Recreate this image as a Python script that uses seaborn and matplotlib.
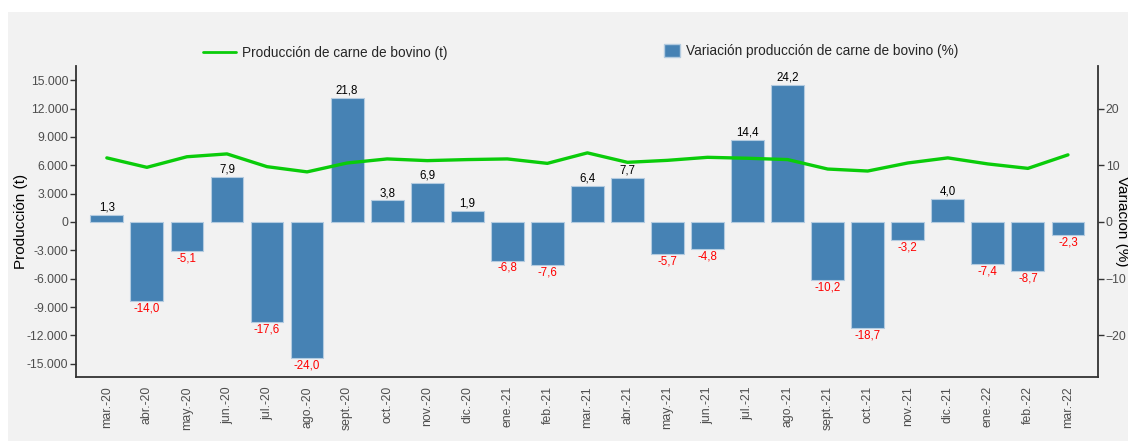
import numpy as np
import pandas as pd
import seaborn as sns
import matplotlib.pyplot as plt
from matplotlib.ticker import FuncFormatter
from matplotlib.patches import Rectangle, Patch
from matplotlib.lines import Line2D

# data
meses = ['mar.-20', 'abr.-20', 'may.-20', 'jun.-20', 'jul.-20', 'ago.-20', 'sept.-20',
         'oct.-20', 'nov.-20', 'dic.-20', 'ene.-21', 'feb.-21', 'mar.-21', 'abr.-21',
         'may.-21', 'jun.-21', 'jul.-21', 'ago.-21', 'sept.-21', 'oct.-21', 'nov.-21',
         'dic.-21', 'ene.-22', 'feb.-22', 'mar.-22']
produccion = [6780, 5780, 6900, 7200, 5850, 5300, 6240, 6670, 6490, 6600, 6670, 6200, 7310,
              6310, 6520, 6840, 6740, 6600, 5600, 5390, 6240, 6780, 6140, 5670, 7100]
variacion = [1.3, -14.0, -5.1, 7.9, -17.6, -24.0, 21.8, 3.8, 6.9, 1.9, -6.8, -7.6, 6.4,
             7.7, -5.7, -4.8, 14.4, 24.2, -10.2, -18.7, -3.2, 4.0, -7.4, -8.7, -2.3]

bg = '#f2f2f2'
verde = '#0acc0a'
azul = '#4682b4'
gris = '#4d4d4d'

sns.set_style('white')
plt.rcParams['font.family'] = ['Liberation Sans', 'DejaVu Sans']

df = pd.DataFrame({'pos': np.arange(len(meses)), 'mes': meses,
                   'produccion': produccion, 'variacion': variacion})

fig = plt.figure(figsize=(11.28, 4.43), dpi=100, facecolor='white')
fig.patches.append(Rectangle((8 / 1128, 2 / 443), 1, 1 - 14 / 443,
                             transform=fig.transFigure, facecolor=bg,
                             edgecolor='none', zorder=-10))
ax1 = fig.add_axes([76 / 1128, 1 - 377 / 443, (1098 - 76) / 1128, (377 - 66) / 443])
ax2 = ax1.twinx()

# bars on the right axis (%)
sns.barplot(data=df, x='pos', y='variacion', ax=ax2, color=azul, saturation=1,
            width=0.82, edgecolor='#b3cbe0', linewidth=0.8, orient='v')
for cont in ax2.containers:
    etiquetas = [f'{v:.1f}'.replace('.', ',') for v in variacion]
    textos = ax2.bar_label(cont, labels=etiquetas, padding=1, fontsize=8.3)
    for t, v in zip(textos, variacion):
        t.set_color('black' if v >= 0 else 'red')

# line on the left axis (t)
sns.lineplot(data=df, x='pos', y='produccion', ax=ax1, color=verde, linewidth=2.4,
             sort=False)

ax1.set_zorder(ax2.get_zorder() + 1)
ax1.patch.set_visible(False)
ax2.set_facecolor(bg)

ylim1 = (-16400, 16500)
ax1.set_ylim(ylim1)
ax2.set_ylim(ylim1[0] / 600, ylim1[1] / 600)
ax1.set_xlim(-0.77, len(meses) - 0.25)

ax1.set_yticks(range(-15000, 15001, 3000))
ax1.yaxis.set_major_formatter(FuncFormatter(lambda v, p: f'{int(v):,}'.replace(',', '.')))
ax2.set_yticks([-20, -10, 0, 10, 20])
ax1.set_xticks(range(len(meses)))
ax1.set_xticklabels(meses, rotation=90)

for ax in (ax1, ax2):
    ax.tick_params(axis='both', direction='out', length=4, width=1, color='#333333',
                   labelsize=8.8, labelcolor=gris, pad=1.5)
    ax.spines['top'].set_visible(False)
    for s in ax.spines.values():
        s.set_color('#333333')
        s.set_linewidth(1.3)
ax1.spines['right'].set_visible(False)
ax2.spines['left'].set_visible(False)
ax2.spines['bottom'].set_visible(False)
ax1.tick_params(axis='x', pad=2.5)

ax1.set_xlabel('')
ax1.set_ylabel('Producción (t)', fontsize=11, color='black')
ax1.yaxis.set_label_coords(-0.047, 0.5)
ax2.set_ylabel('Variación (%)', fontsize=11, color='black', rotation=270, labelpad=2)

h_line = Line2D([], [], color=verde, linewidth=2)
h_bar = Patch(facecolor=azul, edgecolor='#b3cbe0')
fig.legend(handles=[h_line], labels=['Producción de carne de bovino (t)'],
           loc='center left', bbox_to_anchor=(203 / 1128, 1 - 53 / 443), frameon=False,
           borderpad=0, borderaxespad=0, handlelength=2.4, handletextpad=0.45, fontsize=9.8)
fig.legend(handles=[h_bar], labels=['Variación producción de carne de bovino (%)'],
           loc='center left', bbox_to_anchor=(664 / 1128, 1 - 51 / 443), frameon=False,
           borderpad=0, borderaxespad=0, handlelength=1.15, handleheight=1.15,
           handletextpad=0.5, fontsize=9.8)

fig.savefig('out.png', dpi=100, facecolor='white')
